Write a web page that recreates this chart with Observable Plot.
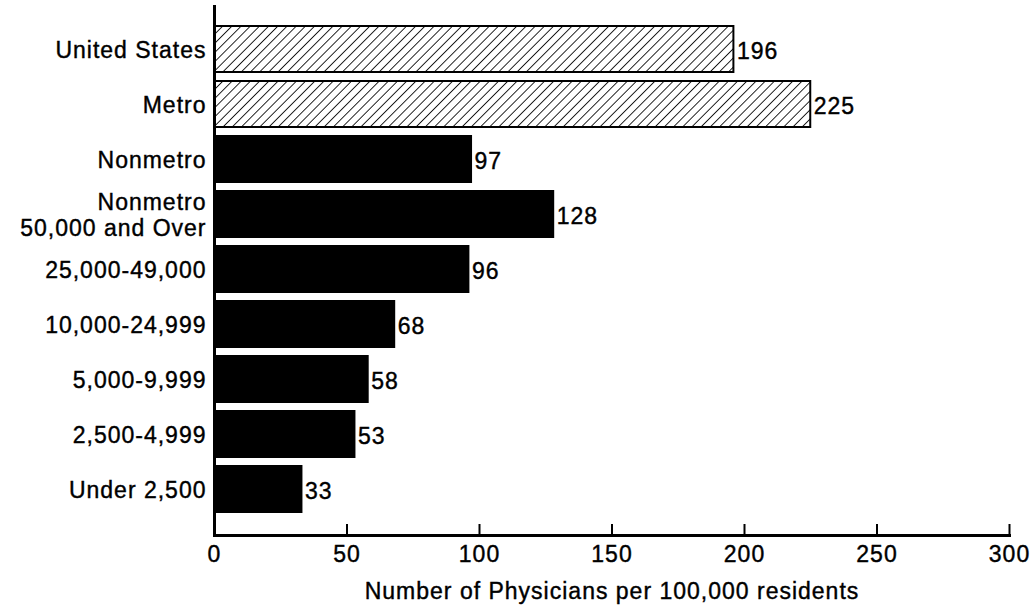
<!DOCTYPE html>
<html>
<head>
<meta charset="utf-8">
<script src="https://cdn.jsdelivr.net/npm/d3@7"></script>
<script src="https://cdn.jsdelivr.net/npm/@observablehq/plot@0.6"></script>
<style>
  html, body { margin: 0; padding: 0; background: #fff; }
  #chart { width: 1032px; height: 609px; overflow: hidden; }
  #chart svg text { stroke: #000; stroke-width: 0.4px; }
</style>
</head>
<body>
<div id="chart"></div>
<script>
const categories = [
  "United States", "Metro", "Nonmetro", "Nonmetro\n50,000 and Over",
  "25,000-49,000", "10,000-24,999", "5,000-9,999", "2,500-4,999", "Under 2,500"
];
const values = [196, 225, 97, 128, 96, 68, 58, 53, 33];
const groups = ["summary", "summary", "nonmetro", "nonmetro", "nonmetro", "nonmetro", "nonmetro", "nonmetro", "nonmetro"];
const xTicks = [0, 50, 100, 150, 200, 250, 300];
const xLabel = "Number of Physicians per 100,000 residents";

const data = categories.map((c, i) => ({category: c, value: values[i], group: groups[i]}));

const marginTop = 5, marginBottom = 74, height = 609;
const frameH = height - marginTop - marginBottom;

const chart = Plot.plot({
  width: 1032,
  height,
  marginTop,
  marginBottom,
  marginLeft: 214,
  marginRight: 23,
  style: {fontFamily: "'Liberation Sans', Arial, sans-serif", fontSize: "23px", letterSpacing: "1px", color: "#000", background: "#fff"},
  x: {domain: [0, 300], ticks: xTicks},
  y: {domain: categories, padding: 0.17, insetTop: 9, insetBottom: 12},
  marks: [
    Plot.barX(data, {
      y: "category", x: "value",
      fill: d => d.group === "summary" ? "url(#hatch)" : "#000",
      stroke: "#000", strokeWidth: 2
    }),
    Plot.text(data, {
      y: "category", x: "value", text: d => String(d.value),
      textAnchor: "start", dx: 3, dy: 2, fill: "#000", fontSize: 23
    }),
    Plot.ruleX(xTicks.filter(t => t > 0), {stroke: "#000", strokeWidth: 2, insetTop: frameH - 11}),
    Plot.ruleX([0], {stroke: "#000", strokeWidth: 3}),
    Plot.frame({anchor: "bottom", stroke: "#000", strokeWidth: 3}),
    Plot.axisY({tickSize: 0, tickPadding: 8, label: null, fontSize: 23, lineHeight: 1.12}),
    Plot.axisX({tickSize: 0, tickPadding: 10, ticks: xTicks, tickFormat: d => String(d), label: xLabel, labelAnchor: "center", labelArrow: "none", labelOffset: 63, fontSize: 23})
  ]
});

const svg = d3.select(chart.tagName.toLowerCase() === "svg" ? chart : chart.querySelector("svg"));
const defs = svg.insert("defs", ":first-child");
const pat = defs.append("pattern")
  .attr("id", "hatch").attr("patternUnits", "userSpaceOnUse")
  .attr("width", 6.5).attr("height", 6.5)
  .attr("patternTransform", "rotate(45)");
pat.append("rect").attr("width", 6.5).attr("height", 6.5).attr("fill", "#fff");
pat.append("line").attr("x1", 0).attr("y1", 0).attr("x2", 0).attr("y2", 6.5)
  .attr("stroke", "#000").attr("stroke-width", 1.7);

document.getElementById("chart").appendChild(chart);
</script>
</body>
</html>
